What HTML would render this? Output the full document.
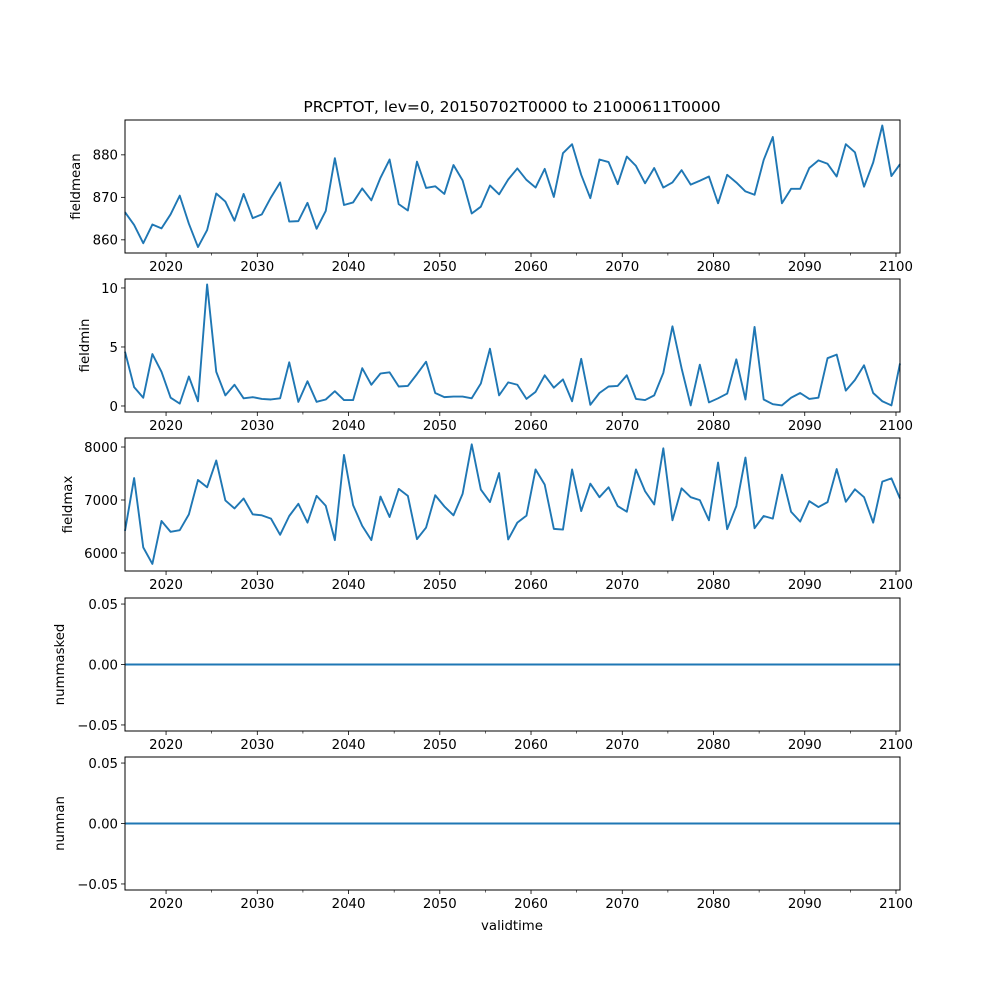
<!DOCTYPE html>
<html><head><meta charset="utf-8"><style>
html,body{margin:0;padding:0;background:#fff;}
svg{display:block;font-family:"DejaVu Sans","Liberation Sans",sans-serif;}
</style></head><body>
<svg id="fig" width="1000" height="1000" viewBox="0 0 1000 1000" xmlns="http://www.w3.org/2000/svg">
<rect width="1000" height="1000" fill="#fff"/>
<text x="512" y="112" font-size="15.5" text-anchor="middle">PRCPTOT, lev=0, 20150702T0000 to 21000611T0000</text>
<text x="512" y="930" font-size="13.3" text-anchor="middle">validtime</text>
<g id="panels"></g>
</svg>
<script>
const years = [];
for (let y = 2015; y <= 2100; y++) years.push(y);
const fieldmean = [866.5,863.5,859.2,863.6,862.7,866.0,870.4,863.8,858.3,862.3,870.9,869.0,864.5,870.8,865.1,866.0,870.0,873.5,864.3,864.4,868.7,862.6,866.8,879.2,868.2,868.8,872.1,869.3,874.6,878.9,868.4,866.9,878.4,872.2,872.6,870.8,877.6,874.0,866.2,867.8,872.8,870.7,874.2,876.8,874.1,872.3,876.7,870.1,880.4,882.5,875.3,869.8,878.9,878.3,873.1,879.6,877.4,873.3,876.9,872.3,873.5,876.4,873.0,873.9,874.9,868.6,875.3,873.5,871.4,870.6,878.8,884.2,868.6,872.0,872.0,876.9,878.7,877.9,874.9,882.5,880.6,872.5,878.2,886.9,875.0,877.8];
const fieldmin = [4.6,1.6,0.7,4.4,2.9,0.7,0.2,2.5,0.4,10.3,2.9,0.9,1.8,0.65,0.75,0.6,0.55,0.65,3.7,0.35,2.1,0.35,0.55,1.25,0.5,0.5,3.2,1.8,2.75,2.85,1.65,1.7,2.7,3.75,1.1,0.75,0.8,0.8,0.65,1.9,4.85,0.9,2.0,1.8,0.6,1.2,2.6,1.55,2.25,0.4,4.0,0.1,1.1,1.65,1.7,2.6,0.6,0.5,0.9,2.8,6.75,3.2,0.05,3.5,0.3,0.65,1.05,3.95,0.55,6.7,0.55,0.15,0.05,0.7,1.1,0.6,0.7,4.05,4.35,1.3,2.2,3.45,1.1,0.4,0.05,3.6];
const fieldmax = [6417,7414,6106,5794,6604,6399,6430,6729,7377,7240,7745,6991,6841,7028,6729,6710,6648,6343,6698,6928,6573,7078,6891,6243,7850,6903,6511,6243,7065,6679,7209,7078,6262,6480,7090,6879,6710,7115,8050,7196,6960,7508,6255,6573,6704,7576,7290,6455,6442,7576,6791,7308,7053,7240,6885,6779,7576,7165,6916,7975,6617,7221,7053,6997,6617,7707,6449,6885,7801,6467,6698,6648,7477,6779,6592,6978,6866,6960,7583,6966,7202,7053,6573,7346,7408,7028];
const nummasked = years.map(() => 0);
const numnan = years.map(() => 0);
const xMajorTicks = [2020,2030,2040,2050,2060,2070,2080,2090,2100];
const xMinorTicks = [2025,2035,2045,2055,2065,2075,2085,2095];
const panelNames = ["fieldmean","fieldmin","fieldmax","nummasked","numnan"];
const panelSeries = [fieldmean, fieldmin, fieldmax, nummasked, numnan];
const panelYDomains = [[856.9,888.2],[-0.51,10.76],[5660,8170],[-0.055,0.055],[-0.055,0.055]];
const panelYTicks = [[860,870,880],[0,5,10],[6000,7000,8000],[-0.05,0,0.05],[-0.05,0,0.05]];
const panelYTickLabels = [["860","870","880"],["0","5","10"],["6000","7000","8000"],["\u22120.05","0.00","0.05"],["\u22120.05","0.00","0.05"]];

const NS = "http://www.w3.org/2000/svg";
const L = 125, R = 900;
const tops = [120, 279, 438, 598, 757], H = 133;
const t0 = 2015.5, t1 = 2100.44;
function xScale(year, last){ const t = last ? t1 : year + 0.5; return L + (t - t0) / (t1 - t0) * (R - L); }
function xTick(y){ return L + (y - t0) / (t1 - t0) * (R - L); }
function mk(tag, attrs, parent){ const e = document.createElementNS(NS, tag); for (const k in attrs) e.setAttribute(k, attrs[k]); parent.appendChild(e); return e; }
const root = document.getElementById("panels");
panelNames.forEach((name, p) => {
  const top = tops[p], bot = top + H;
  const [d0, d1] = panelYDomains[p];
  const yScale = v => bot - (v - d0) / (d1 - d0) * H;
  const g = mk("g", {}, root);
  
  
  const pts = panelSeries[p].map((v, i) => xScale(years[i], i === years.length - 1).toFixed(2) + "," + yScale(v).toFixed(2)).join(" ");
  const line = mk("polyline", {points: pts, fill: "none", stroke: "#1f77b4", "stroke-width": 1.9, "stroke-linejoin": "round"}, g);
  
  
  const frame = mk("rect", {x: L, y: top, width: R - L, height: H, fill: "none", stroke: "#000", "stroke-width": 1}, g);
  
  
  xMajorTicks.forEach(y => {
    const x = xTick(y);
    mk("line", {x1: x, x2: x, y1: bot, y2: bot + 4, stroke: "#000", "stroke-width": 0.8}, g);
    const t = mk("text", {x: x, y: bot + 18, "font-size": 13.3, "text-anchor": "middle"}, g);
    t.textContent = y;
    
    
  });
  xMinorTicks.forEach(y => {
    const x = xTick(y);
    mk("line", {x1: x, x2: x, y1: bot, y2: bot + 2.5, stroke: "#000", "stroke-width": 0.6}, g);
  });
  panelYTicks[p].forEach((v, k) => {
    const y = yScale(v);
    mk("line", {x1: L - 4, x2: L, y1: y, y2: y, stroke: "#000", "stroke-width": 0.8}, g);
    const t = mk("text", {x: L - 7, y: y + 4.8, "font-size": 13.3, "text-anchor": "end"}, g);
    t.textContent = panelYTickLabels[p][k];
    
    
  });
  const lx = [80, 89, 72, 64, 64][p];
  const yl = mk("text", {x: lx, y: top + H / 2, "font-size": 13.3, "text-anchor": "middle", transform: "rotate(-90 " + lx + " " + (top + H / 2) + ")"}, g);
  yl.textContent = name;
  
  
});
</script>
</body></html>
